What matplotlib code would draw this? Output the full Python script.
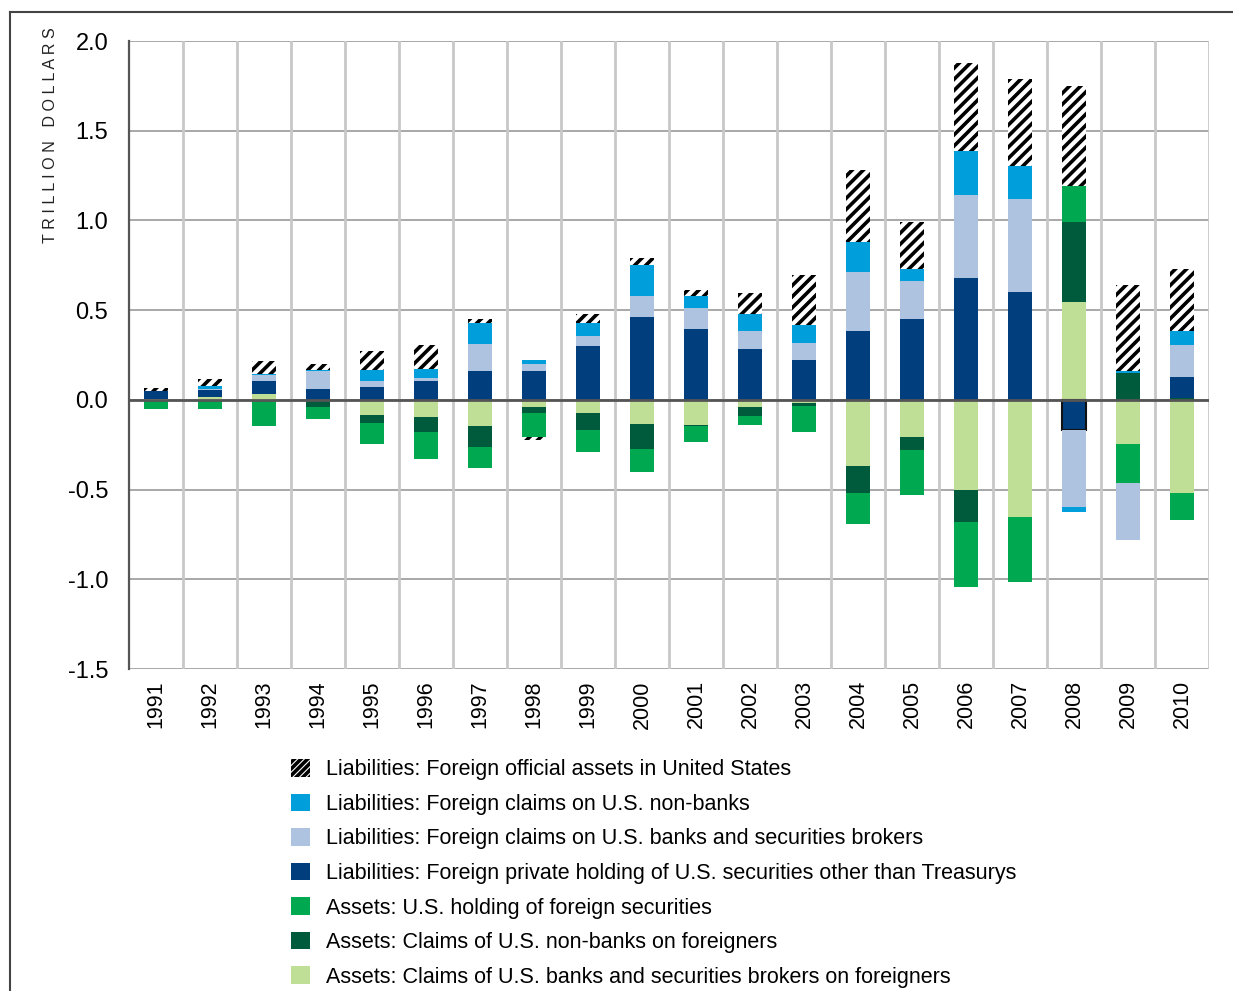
import numpy as np
import matplotlib
matplotlib.use('Agg')
import matplotlib.pyplot as plt
from matplotlib.patches import Patch
from matplotlib.lines import Line2D

plt.rcParams['font.family'] = ['Liberation Sans', 'DejaVu Sans']
plt.rcParams['hatch.linewidth'] = 2.6

years = [str(y) for y in range(1991, 2011)]

# stacking order: first series sits next to zero
as_banks = [0.003, 0.017, 0.030, -0.005, -0.082, -0.095, -0.144, -0.039, -0.072, -0.133,
            -0.139, -0.039, -0.017, -0.367, -0.206, -0.500, -0.650, 0.543, -0.244, -0.517]
as_nonbanks = [0.0, 0.0, 0.0, -0.033, -0.045, -0.084, -0.117, -0.033, -0.094, -0.139,
               -0.006, -0.050, -0.017, -0.150, -0.072, -0.183, 0.0, 0.450, 0.148, 0.011]
as_securities = [-0.051, -0.052, -0.147, -0.067, -0.117, -0.150, -0.117, -0.133, -0.122, -0.128,
                 -0.089, -0.050, -0.144, -0.172, -0.250, -0.361, -0.367, 0.200, -0.222, -0.150]
li_private = [0.047, 0.037, 0.078, 0.058, 0.074, 0.106, 0.161, 0.161, 0.300, 0.461,
              0.394, 0.283, 0.222, 0.382, 0.448, 0.682, 0.604, -0.167, 0.0, 0.115]
li_banks = [0.0, 0.009, 0.028, 0.102, 0.033, 0.018, 0.150, 0.039, 0.056, 0.117,
            0.117, 0.100, 0.094, 0.333, 0.217, 0.461, 0.517, -0.428, -0.317, 0.178]
li_nonbanks = [0.0, 0.015, 0.011, 0.006, 0.058, 0.048, 0.117, 0.022, 0.072, 0.172,
               0.067, 0.094, 0.100, 0.167, 0.067, 0.244, 0.183, -0.028, 0.011, 0.078]
li_official = [0.018, 0.037, 0.072, 0.035, 0.110, 0.134, 0.022, -0.020, 0.050, 0.043,
               0.033, 0.117, 0.278, 0.400, 0.261, 0.489, 0.483, 0.556, 0.483, 0.350]

series = [
    (as_banks, '#BFDE96', None, 'Assets: Claims of U.S. banks and securities brokers on foreigners'),
    (as_nonbanks, '#005A3C', None, 'Assets: Claims of U.S. non-banks on foreigners'),
    (as_securities, '#00A84F', None, 'Assets: U.S. holding of foreign securities'),
    (li_private, '#003E7E', None, 'Liabilities: Foreign private holding of U.S. securities other than Treasurys'),
    (li_banks, '#ADC3E0', None, 'Liabilities: Foreign claims on U.S. banks and securities brokers'),
    (li_nonbanks, '#009EDB', None, 'Liabilities: Foreign claims on U.S. non-banks'),
    (li_official, 'white', '///', 'Liabilities: Foreign official assets in United States'),
]

fig = plt.figure(figsize=(12.33, 9.91), dpi=100)
ax = fig.add_axes([0.1046, 0.3249, 0.8759, 0.6337])

x = np.arange(len(years))
pos = np.zeros(len(years))
neg = np.zeros(len(years))
handles = []
for vals, color, hatch, label in series:
    v = np.array(vals)
    bottom = np.where(v >= 0, pos, neg)
    if hatch:
        bars = ax.bar(x, v, 0.46, bottom=bottom, color=color, hatch=hatch,
                      edgecolor='black', linewidth=0, zorder=2)
        handles.append(Patch(facecolor='white', edgecolor='black', hatch='/////', linewidth=0, label=label))
    else:
        bars = ax.bar(x, v, 0.46, bottom=bottom, color=color, linewidth=0, zorder=2)
        handles.append(Patch(facecolor=color, linewidth=0, label=label))
    if vals is li_private:
        # 2008 negative segment is outlined in the source
        for b, val in zip(bars, vals):
            if val < 0:
                b.set_edgecolor('#111111')
                b.set_linewidth(1.5)
    pos += np.where(v >= 0, v, 0)
    neg += np.where(v < 0, v, 0)

ax.set_xlim(-0.5, len(years) - 0.5)
ax.set_ylim(-1.5, 2.0)
ax.set_yticks(np.arange(-1.5, 2.01, 0.5))
ax.set_yticklabels(['%.1f' % t for t in np.arange(-1.5, 2.01, 0.5)], fontsize=17)
ax.set_xticks(x)
ax.set_xticklabels(years, rotation=90, fontsize=15.5)
ax.tick_params(axis='both', length=0)
ax.tick_params(axis='y', pad=15)
ax.tick_params(axis='x', pad=8)

for yv in np.arange(-1.5, 2.01, 0.5):
    ax.axhline(yv, color='#A8A8A8', lw=1.4, zorder=1)
for xv in np.arange(0.5, len(years), 1.0):
    ax.axvline(xv, color='#C8C8C8', lw=2, zorder=1)
ax.axhline(0, color='#555555', lw=2, zorder=3)

for s in ['top', 'right', 'bottom']:
    ax.spines[s].set_visible(False)
ax.spines['left'].set_color('#555555')
ax.spines['left'].set_linewidth(1.6)

fig.text(0.041, 0.9720, 'T R I L L I O N   D O L L A R S', rotation=90, ha='center', va='top',
         fontsize=11.6, color='#222222')

# outer frame
fig.add_artist(Line2D([10 / 1233, 10 / 1233], [0, 1 - 12 / 991], transform=fig.transFigure,
                      color='#444444', lw=1.5))
fig.add_artist(Line2D([10 / 1233, 1], [1 - 12 / 991, 1 - 12 / 991], transform=fig.transFigure,
                      color='#444444', lw=1.5))

fig.legend(handles[::-1], [h.get_label() for h in handles[::-1]], loc='upper left',
           bbox_to_anchor=(291 / 1233, 1 - 759 / 991), frameon=False,
           prop={'size': 15.5},
           handlelength=0.88, handleheight=0.88, handletextpad=0.74, labelspacing=0.62,
           borderpad=0, borderaxespad=0)

fig.savefig('out.png', dpi=100)
